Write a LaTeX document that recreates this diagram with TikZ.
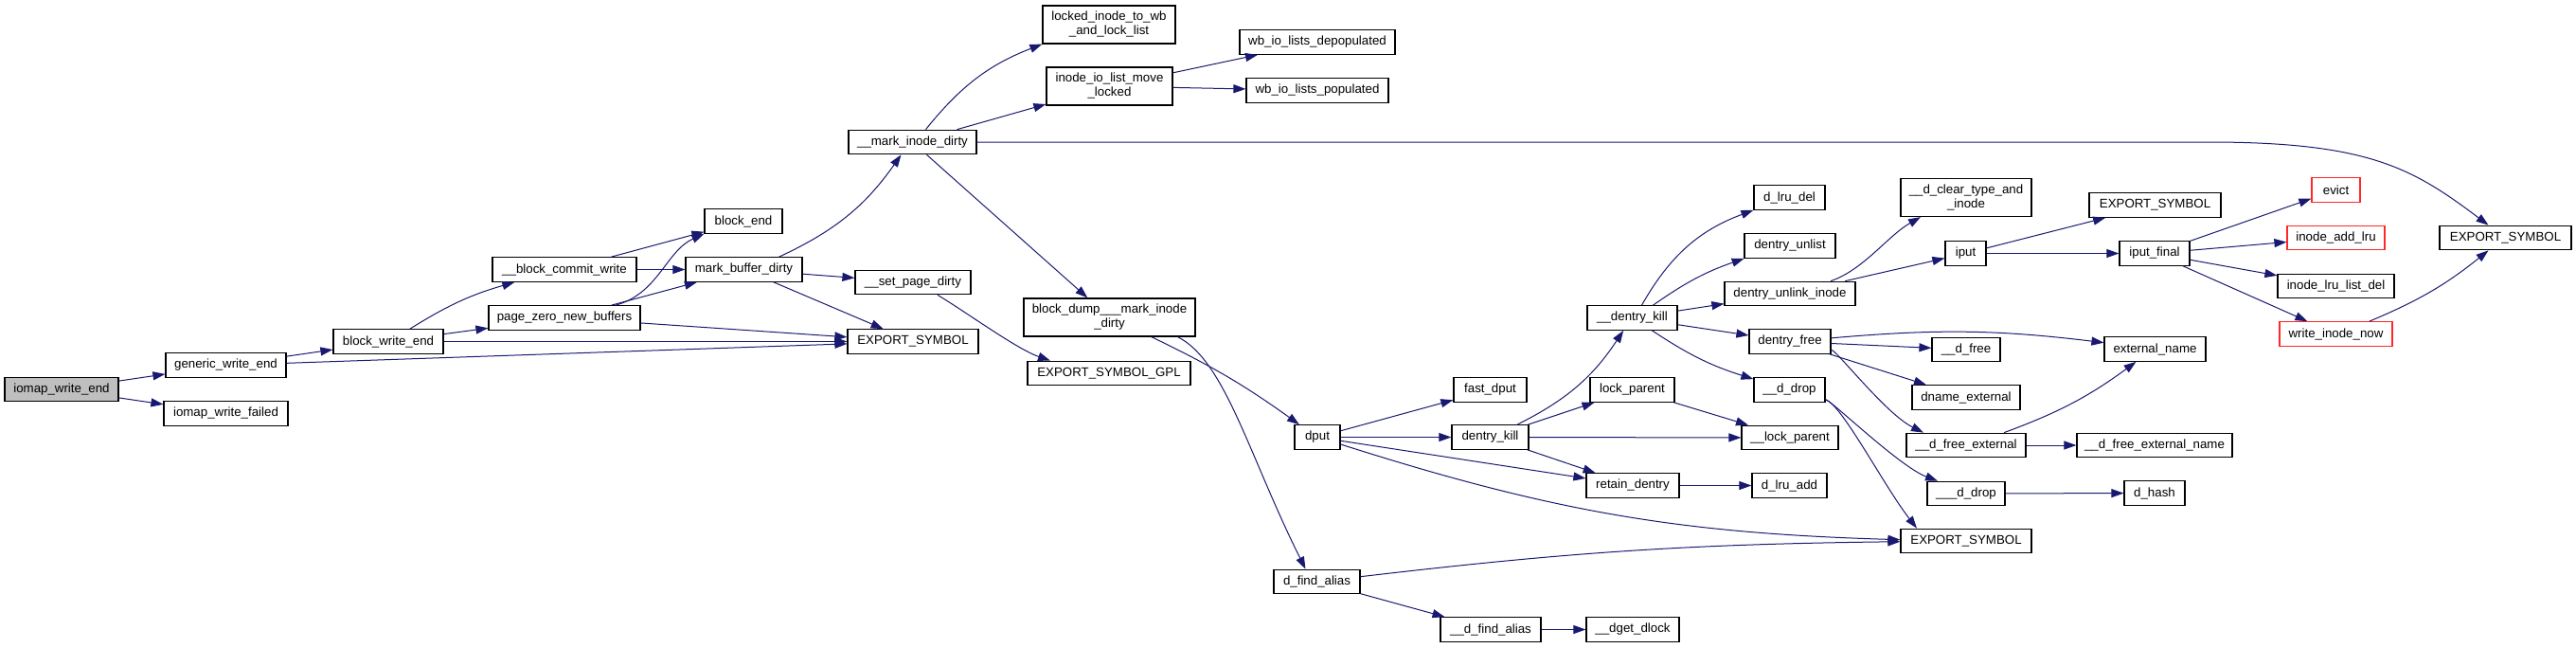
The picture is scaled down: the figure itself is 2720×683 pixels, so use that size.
\documentclass[tikz,border=0pt]{standalone}
\usepackage{fontspec}
\setmainfont{Liberation Sans}
\usetikzlibrary{arrows.meta}
\definecolor{calls}{RGB}{25,25,112}
\definecolor{rootgrey}{RGB}{191,191,191}
\definecolor{nodoc}{RGB}{255,40,40}
\tikzset{
  fn/.style={draw=black,line width=1.2pt,fill=white,inner sep=0pt,
    minimum height=25.5pt,align=center,
    font=\fontsize{13.3}{15}\selectfont},
  fn2/.style={fn,minimum height=40pt},
  rootfn/.style={fn,fill=rootgrey},
  redfn/.style={fn,draw=nodoc},
  call/.style={-{Triangle[length=13pt,width=9pt]},draw=calls,line width=1pt},
}

\begin{document}
\begin{tikzpicture}[x=1pt,y=-1pt]
  \useasboundingbox (0,0) rectangle (2720,683);
  % callers on the left
  \node[rootfn,minimum width=120pt] (rootw) at (65,411) {iomap\_write\_end};
  \node[fn,minimum width=127pt] (gwe) at (238.5,385.5) {generic\_write\_end};
  \node[fn,minimum width=131pt] (failed) at (238.5,436.5) {iomap\_write\_failed};
  \node[fn,minimum width=116pt] (bwe) at (410,360.5) {block\_write\_end};
  \node[fn,minimum width=152pt] (bcw) at (596,284.5) {\_\_block\_commit\_write};
  \node[fn,minimum width=160pt] (pznb) at (596,335.5) {page\_zero\_new\_buffers};
  \node[fn,minimum width=82pt] (bend) at (785,233.5) {block\_end};
  \node[fn,minimum width=123pt] (mbd) at (785.5,284.5) {mark\_buffer\_dirty};
  \node[fn,minimum width=122pt] (spd) at (964,298) {\_\_set\_page\_dirty};
  \node[fn,minimum width=138pt] (exp1) at (964,360.5) {EXPORT\_SYMBOL};
  \node[fn,minimum width=135pt] (mid) at (963.5,150) {\_\_mark\_inode\_dirty};
  % inode dirtying
  \node[fn2,minimum width=140pt] (lockwb) at (1171,26) {locked\_inode\_to\_wb\\\_and\_lock\_list};
  \node[fn2,minimum width=133pt] (moved) at (1171.5,91) {inode\_io\_list\_move\\\_locked};
  \node[fn2,minimum width=181pt] (bdump) at (1171.5,335) {block\_dump\_\_\_mark\_inode\\\_dirty};
  \node[fn,minimum width=172pt] (gpl) at (1171,394) {EXPORT\_SYMBOL\_GPL};
  \node[fn,minimum width=164pt] (depop) at (1391,44.5) {wb\_io\_lists\_depopulated};
  \node[fn,minimum width=150pt] (pop) at (1391,95.5) {wb\_io\_lists\_populated};
  % dentry side
  \node[fn,minimum width=48pt] (dput) at (1391,461.5) {dput};
  \node[fn,minimum width=91pt] (falias) at (1390.5,614) {d\_find\_alias};
  \node[fn,minimum width=77pt] (fdput) at (1573.5,411.5) {fast\_dput};
  \node[fn,minimum width=81pt] (dkill) at (1573.5,461.5) {dentry\_kill};
  \node[fn,minimum width=106pt] (dfalias) at (1574,664.5) {\_\_d\_find\_alias};
  \node[fn,minimum width=95pt] (ddkill) at (1723.5,335.5) {\_\_dentry\_kill};
  \node[fn,minimum width=89pt] (lockp) at (1723.5,411.5) {lock\_parent};
  \node[fn,minimum width=98pt] (retain) at (1724,512.5) {retain\_dentry};
  \node[fn,minimum width=98pt] (dget) at (1724,664.5) {\_\_dget\_dlock};
  \node[fn,minimum width=75pt] (lrudel) at (1889.5,208.5) {d\_lru\_del};
  \node[fn,minimum width=96pt] (unlist) at (1890,259.5) {dentry\_unlist};
  \node[fn,minimum width=138pt] (unlink) at (1890,310) {dentry\_unlink\_inode};
  \node[fn,minimum width=86pt] (dfree) at (1890,360.5) {dentry\_free};
  \node[fn,minimum width=75pt] (ddrop) at (1889.5,411.5) {\_\_d\_drop};
  \node[fn,minimum width=102pt] (llockp) at (1890,462) {\_\_lock\_parent};
  \node[fn,minimum width=79pt] (lruadd) at (1889.5,512.5) {d\_lru\_add};
  \node[fn2,minimum width=138pt] (clear) at (2076,208.5) {\_\_d\_clear\_type\_and\\\_inode};
  \node[fn,minimum width=43pt] (iput) at (2075.5,267.5) {iput};
  \node[fn,minimum width=72pt] (dfreeb) at (2076,369) {\_\_d\_free};
  \node[fn,minimum width=114pt] (dname) at (2076,419.5) {dname\_external};
  \node[fn,minimum width=126pt] (dfreeext) at (2076,470) {\_\_d\_free\_external};
  \node[fn,minimum width=82pt] (dddrop) at (2076,521) {\_\_\_d\_drop};
  \node[fn,minimum width=138pt] (exp3) at (2076,571) {EXPORT\_SYMBOL};
  \node[fn,minimum width=139pt] (exp4) at (2275.5,216.5) {EXPORT\_SYMBOL};
  \node[fn,minimum width=74pt] (ifinal) at (2275,267.5) {iput\_final};
  \node[fn,minimum width=107pt] (extname) at (2275.5,368.5) {external\_name};
  \node[fn,minimum width=164pt] (extfree) at (2275,470) {\_\_d\_free\_external\_name};
  \node[fn,minimum width=64pt] (dhash) at (2275,520.5) {d\_hash};
  \node[redfn,minimum width=51pt] (evict) at (2466.5,200.5) {evict};
  \node[redfn,minimum width=103pt] (addlru) at (2466.5,251) {inode\_add\_lru};
  \node[fn,minimum width=123pt] (lrudelb) at (2466.5,302) {inode\_lru\_list\_del};
  \node[redfn,minimum width=119pt] (winow) at (2466.5,352.5) {write\_inode\_now};
  \node[fn,minimum width=139pt] (exp5) at (2645.5,251) {EXPORT\_SYMBOL};

  % calls
  \draw[call] (rootw) -- (gwe);
  \draw[call] (rootw) -- (failed);
  \draw[call] (gwe) -- (bwe);
  \draw[call] (gwe) -- (exp1);
  \draw[call] (bwe) to[bend left=8] (bcw);
  \draw[call] (bwe) -- (pznb);
  \draw[call] (bwe) -- (exp1);
  \draw[call] (bcw) -- (bend);
  \draw[call] (bcw) -- (mbd);
  \draw[call] ([xshift=54pt]pznb.north) .. controls +(45,-12) and +(-40,18) .. (bend.south west);
  \draw[call] (pznb) -- (mbd);
  \draw[call] (pznb) -- (exp1);
  \draw[call] ([xshift=-25pt]mbd.north east) to[bend right=15] ([xshift=-12pt]mid.south);
  \draw[call] (mbd) -- (spd);
  \draw[call] (mbd) -- (exp1);
  \draw[call] ([xshift=26pt]spd.south) .. controls +(30,18) and +(-35,-12) .. ([xshift=-62pt]gpl.north);
  \draw[call] ([xshift=14pt]mid.north) to[bend left=15] (lockwb.south west);
  \draw[call] (mid) -- (moved);
  \draw[call] (mid) -- (bdump);
  \draw[call] (mid.east) -- ++(1300,0) .. controls +(170,0) and +(-80,-60) .. ([xshift=-18pt]exp5.north);
  \draw[call] (moved) -- (depop);
  \draw[call] (moved) -- (pop);
  \draw[call] (bdump) to[bend left=5] (dput);
  \draw[call] ([xshift=72pt]bdump.south) .. controls +(50,25) and +(-60,-120) .. ([xshift=-12pt]falias.north);
  \draw[call] (dput) -- (fdput);
  \draw[call] (dput) -- (dkill);
  \draw[call] (dput) -- (retain);
  \draw[call] (dput) to[bend right=8] (exp3);
  \draw[call] (dkill) to[bend right=15] (ddkill);
  \draw[call] (dkill) -- (lockp);
  \draw[call] (dkill) -- (llockp);
  \draw[call] (dkill) -- (retain);
  \draw[call] (lockp) -- (llockp);
  \draw[call] (retain) -- (lruadd);
  \draw[call] (falias) to[bend left=3] (exp3);
  \draw[call] (falias) -- (dfalias);
  \draw[call] (dfalias) -- (dget);
  \draw[call] ([xshift=10pt]ddkill.north) to[bend left=20] (lrudel.south west);
  \draw[call] ([xshift=22pt]ddkill.north) to[bend left=8] (unlist);
  \draw[call] (ddkill) -- (unlink);
  \draw[call] (ddkill) -- (dfree);
  \draw[call] (ddkill) to[bend right=8] (ddrop);
  \draw[call] ([xshift=43pt]unlink.north) .. controls +(35,-12) and +(-35,20) .. ([xshift=-48pt]clear.south);
  \draw[call] (unlink) -- (iput);
  \draw[call] (dfree) to[bend left=6] (extname);
  \draw[call] (dfree) -- (dfreeb);
  \draw[call] (dfree) -- (dname);
  \draw[call] (dfree) .. controls +(50,10) and +(-40,-20) .. ([xshift=-45pt]dfreeext.north);
  \draw[call] (ddrop) .. controls +(45,12) and +(-40,-15) .. ([xshift=-30pt]dddrop.north);
  \draw[call] (ddrop) .. controls +(55,15) and +(-35,-45) .. ([xshift=-52pt]exp3.north);
  \draw[call] ([xshift=40pt]dfreeext.north) to[bend right=8] ([xshift=-20pt]extname.south);
  \draw[call] (dfreeext) -- (extfree);
  \draw[call] (dddrop) -- (dhash);
  \draw[call] (iput) -- (exp4);
  \draw[call] (iput) -- (ifinal);
  \draw[call] (ifinal) -- (evict);
  \draw[call] (ifinal) -- (addlru);
  \draw[call] (ifinal) -- (lrudelb);
  \draw[call] (ifinal) -- (winow);
  \draw[call] (winow) to[bend right=8] ([xshift=-18pt]exp5.south);
\end{tikzpicture}
\end{document}
